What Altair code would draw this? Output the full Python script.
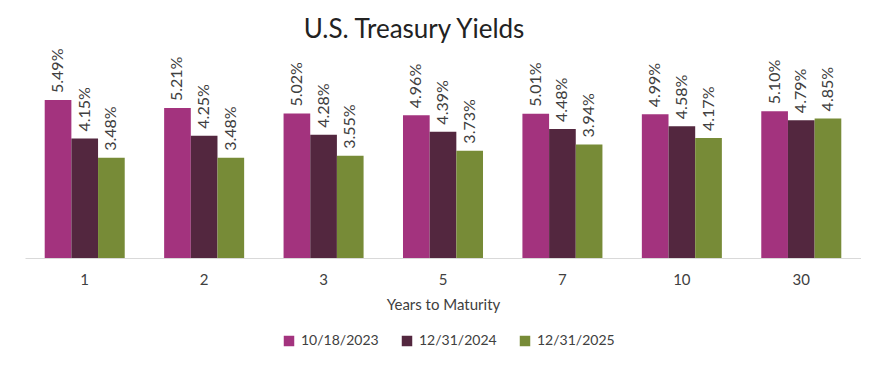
import altair as alt
import pandas as pd

maturities = ["1", "2", "3", "5", "7", "10", "30"]
series = ["10/18/2023", "12/31/2024", "12/31/2025"]
y2023 = [5.49, 5.21, 5.02, 4.96, 5.01, 4.99, 5.10]
y2024 = [4.15, 4.25, 4.28, 4.39, 4.48, 4.58, 4.79]
y2025 = [3.48, 3.48, 3.55, 3.73, 3.94, 4.17, 4.85]
colors = ["#A3337E", "#53273F", "#778B37"]

rows = []
for s, vals in zip(series, [y2023, y2024, y2025]):
    for m, v in zip(maturities, vals):
        rows.append({"Maturity": m, "Series": s, "Yield": v, "Label": f"{v:.2f}%"})
df = pd.DataFrame(rows)

FONT = "Lato"

x = alt.X("Maturity:N", sort=maturities,
          scale=alt.Scale(paddingInner=0.33, paddingOuter=0.165),
          axis=alt.Axis(title="Years to Maturity", labelAngle=0, ticks=False,
                        domainColor="#D9D9D9", domainWidth=1.2,
                        labelFontSize=15, labelColor="#404040", labelPadding=14,
                        titleFontSize=15, titleColor="#404040", titleFontWeight="normal",
                        titlePadding=10, labelFont=FONT, titleFont=FONT))
y = alt.Y("Yield:Q", scale=alt.Scale(domain=[0, 7.4], nice=False), axis=None)
xo = alt.XOffset("Series:N", sort=series)

bars = alt.Chart(df).mark_bar().encode(
    x=x, y=y, xOffset=xo,
    color=alt.Color("Series:N", sort=series,
                    scale=alt.Scale(domain=series, range=colors),
                    legend=alt.Legend(title=None, orient="none", direction="horizontal",
                                      legendX=257, legendY=289,
                                      symbolType="square", symbolSize=110,
                                      symbolStrokeWidth=0,
                                      labelFontSize=14, labelColor="#404040", labelFont=FONT,
                                      columnPadding=21, labelOffset=5)),
)

labels = alt.Chart(df).mark_text(angle=270, align="left", baseline="middle", dx=7,
                                 fontSize=16, color="#404040", font=FONT).encode(
    x=x, y=y, xOffset=xo, text="Label:N")

chart = (bars + labels).properties(
    width=836, height=213,
    title=alt.TitleParams("U.S. Treasury Yields", fontSize=26, font=FONT,
                          fontWeight="normal", color="#222222", anchor="middle",
                          offset=2, dx=-29),
    autosize=alt.AutoSizeParams(type="none"),
    padding={"left": 17, "top": 37, "right": 0, "bottom": 100},
).configure_view(stroke=None)

chart.save("out.html", embed_options={"renderer": "svg", "actions": False})
